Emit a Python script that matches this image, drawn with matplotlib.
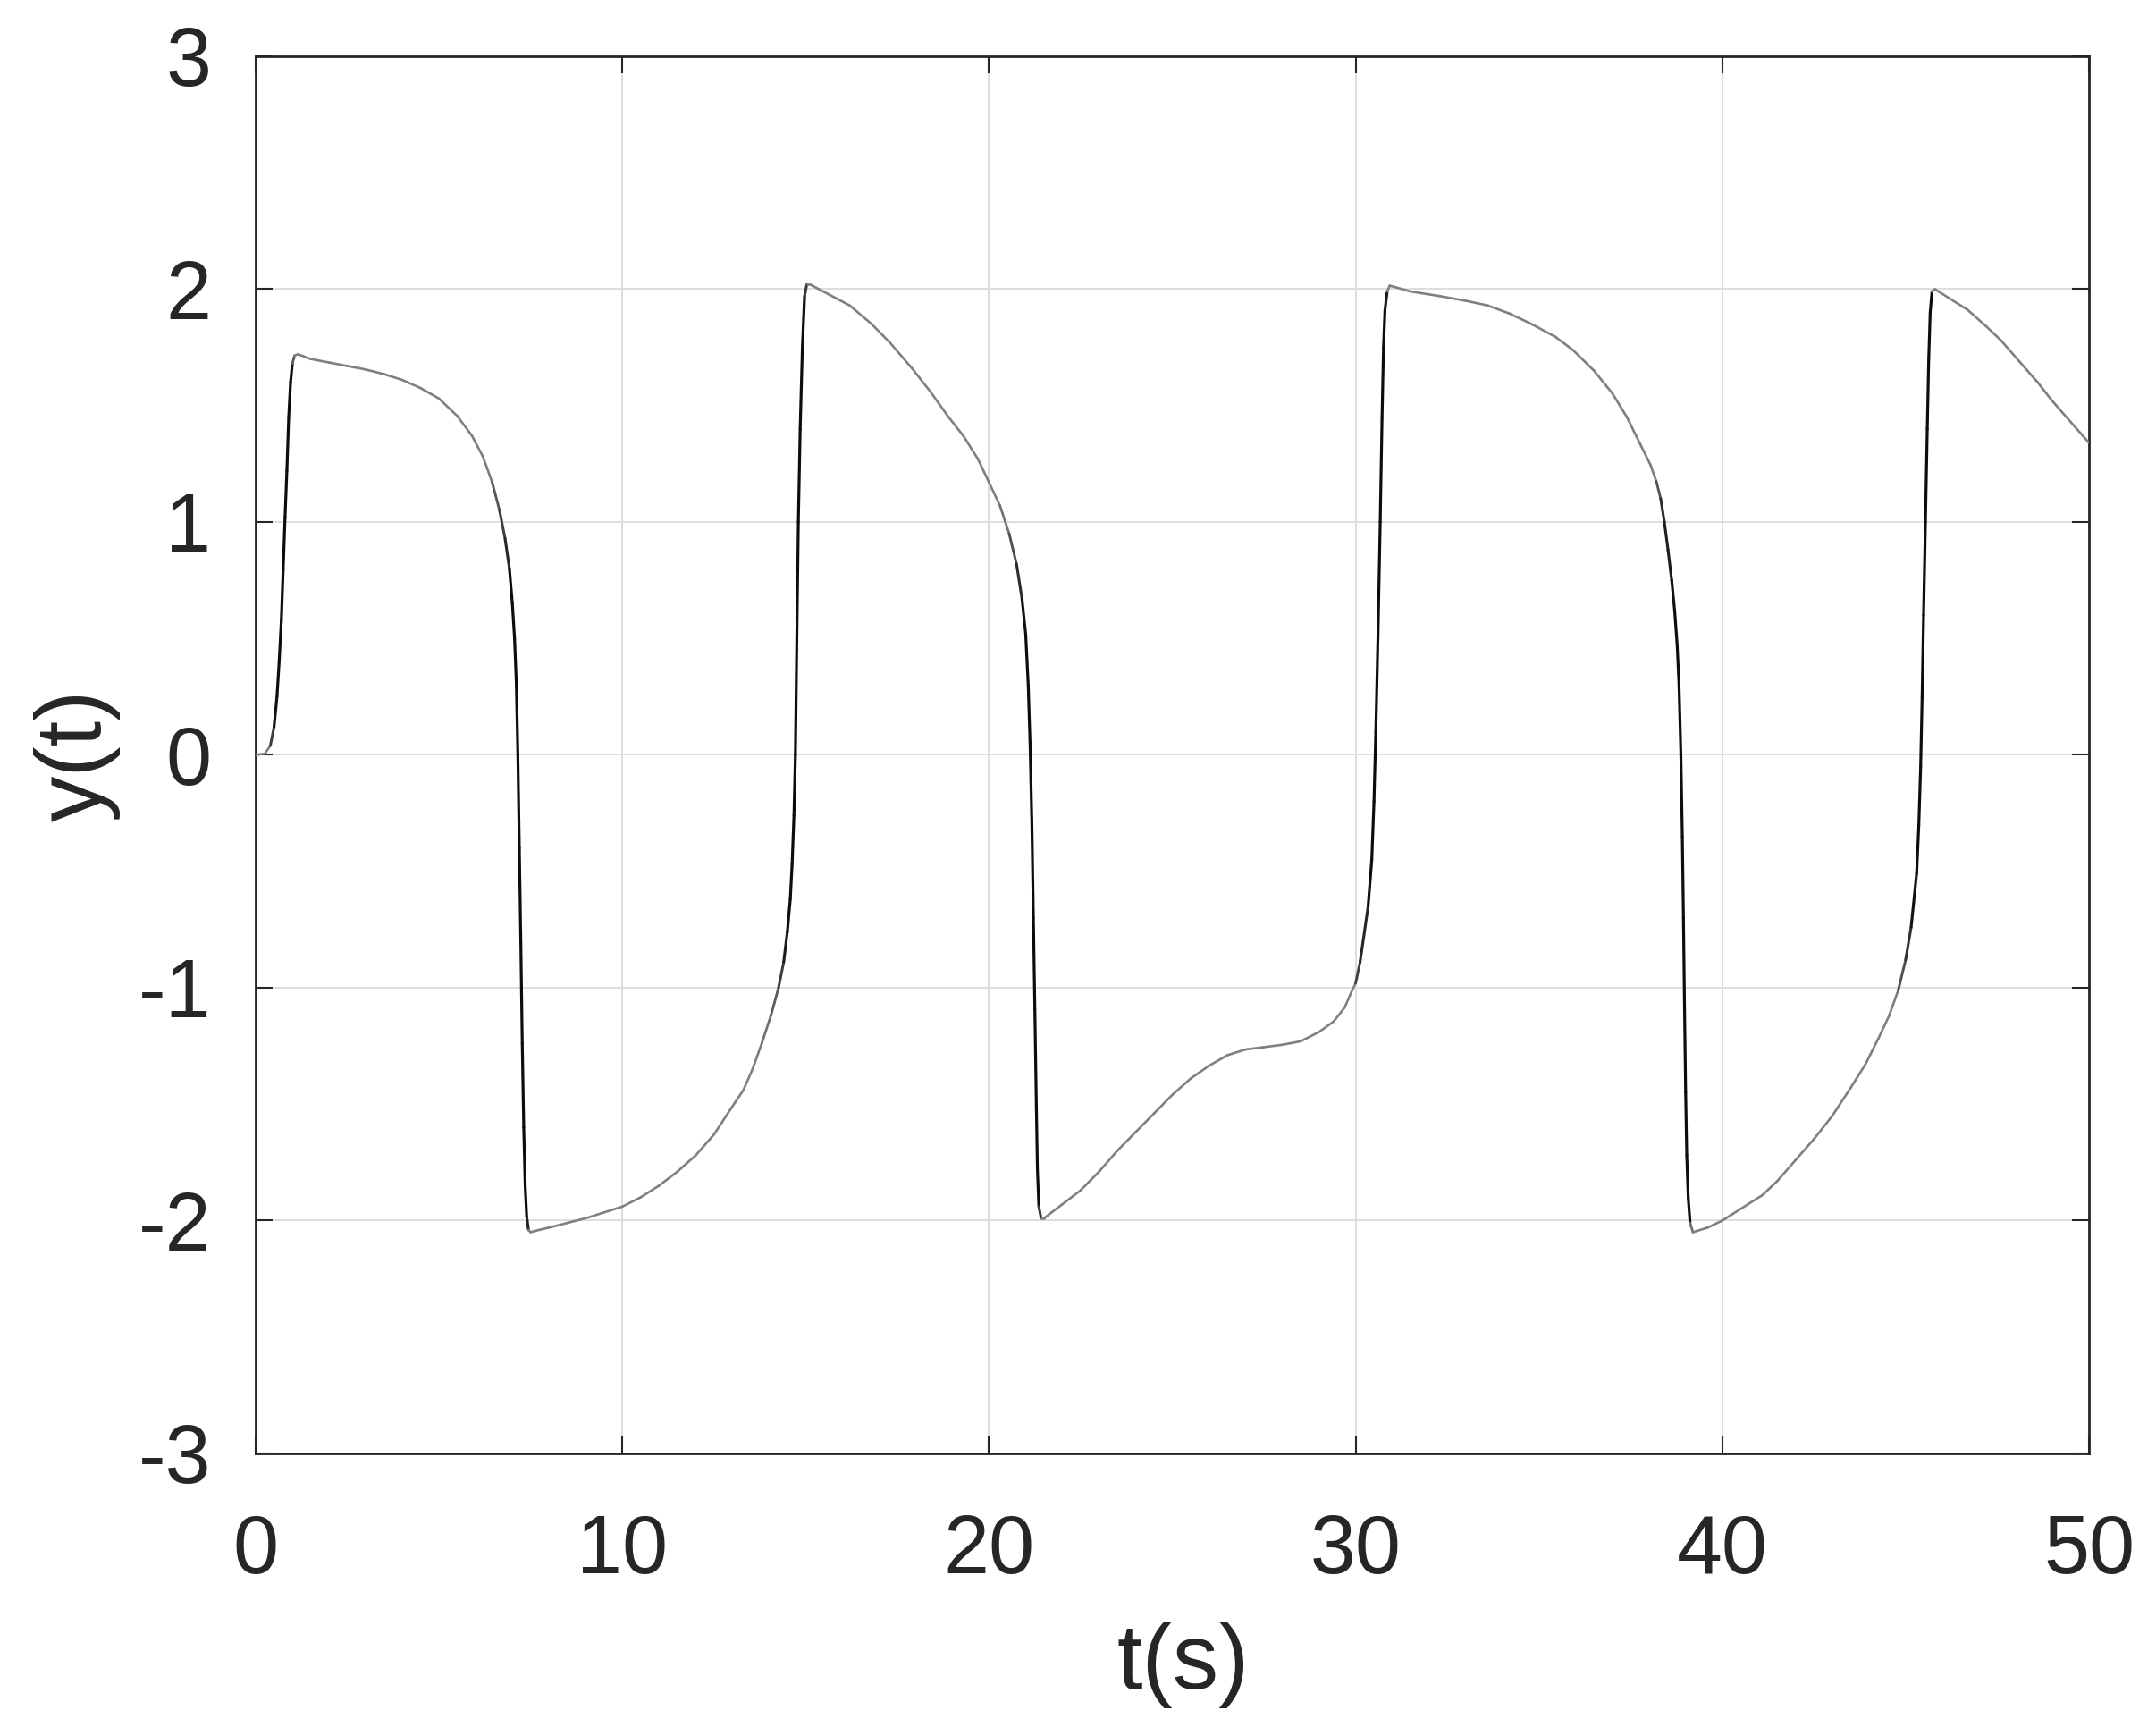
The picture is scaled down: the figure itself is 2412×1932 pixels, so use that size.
import numpy as np
import matplotlib.pyplot as plt
from matplotlib.collections import LineCollection

# values
t_vals = [0.0, 0.25, 0.4, 0.5, 0.58, 0.64, 0.70, 0.75, 0.80, 0.85, 0.90, 0.95, 1.0, 1.06, 1.15, 1.25,
          1.5, 2.0, 2.5, 3.0, 3.5, 4.0, 4.5, 5.0, 5.5, 5.9, 6.2, 6.45, 6.65, 6.8, 6.92, 7.0, 7.06, 7.11,
          7.15, 7.19, 7.23, 7.27, 7.31, 7.35, 7.39, 7.44, 7.5, 7.6,
          8.0, 8.5, 9.0, 9.5, 10.0, 10.5, 11.0, 11.5, 12.0, 12.5, 13.0, 13.3, 13.55, 13.8, 14.05, 14.26,
          14.4, 14.5, 14.58, 14.63, 14.68, 14.72, 14.76, 14.8, 14.85, 14.91, 14.97, 15.03, 15.12,
          15.6, 16.2, 16.8, 17.3, 17.9, 18.4, 18.9, 19.3, 19.7, 20.0, 20.3, 20.55, 20.75, 20.9, 21.0,
          21.07, 21.12, 21.17, 21.21, 21.25, 21.29, 21.32, 21.36, 21.42, 21.5,
          22.0, 22.5, 23.0, 23.5, 24.0, 24.5, 25.0, 25.5, 26.0, 26.5, 27.0, 27.5, 28.0, 28.5, 29.0,
          29.4, 29.7, 29.88, 30.0, 30.12, 30.24, 30.34, 30.44, 30.5, 30.55, 30.61, 30.67, 30.72, 30.76,
          30.8, 30.86, 30.93, 31.05,
          31.5, 32.3, 33.0, 33.6, 34.2, 34.8, 35.45, 35.93, 36.5, 37.0, 37.4, 37.76, 38.04, 38.2, 38.32,
          38.42, 38.52, 38.62, 38.7, 38.77, 38.82, 38.87, 38.91, 38.94, 38.97, 39.0, 39.03, 39.07, 39.12,
          39.2, 39.3,
          39.6, 40.0, 40.5, 41.1, 41.5, 42.0, 42.5, 43.0, 43.5, 43.9, 44.25, 44.55, 44.8, 45.0, 45.15,
          45.3, 45.36, 45.41, 45.45, 45.49, 45.54, 45.59, 45.63, 45.67, 45.72, 45.8,
          46.2, 46.7, 47.2, 47.6, 48.1, 48.6, 49.0, 49.5, 50.0]
y_vals = [0.0, 0.005, 0.04, 0.12, 0.25, 0.4, 0.58, 0.80, 1.02, 1.22, 1.45, 1.60, 1.68, 1.715, 1.72, 1.715,
          1.70, 1.685, 1.67, 1.655, 1.635, 1.61, 1.575, 1.53, 1.455, 1.37, 1.28, 1.17, 1.05, 0.93, 0.80, 0.65, 0.50, 0.30,
          0.0, -0.4, -0.8, -1.24, -1.6, -1.85, -1.98, -2.04, -2.05, -2.045,
          -2.03, -2.01, -1.99, -1.965, -1.94, -1.90, -1.85, -1.79, -1.72, -1.63, -1.51, -1.44, -1.35, -1.24, -1.12, -1.0,
          -0.89, -0.76, -0.62, -0.47, -0.26, 0.0, 0.52, 1.0, 1.4, 1.75, 1.97, 2.02, 2.02,
          1.98, 1.93, 1.85, 1.77, 1.66, 1.56, 1.45, 1.37, 1.27, 1.17, 1.07, 0.95, 0.82, 0.67, 0.52,
          0.30, 0.05, -0.3, -0.7, -1.09, -1.5, -1.78, -1.94, -1.99, -1.99,
          -1.93, -1.87, -1.79, -1.70, -1.62, -1.54, -1.46, -1.39, -1.335, -1.29, -1.265, -1.255, -1.245, -1.23, -1.19,
          -1.145, -1.085, -1.02, -0.98, -0.89, -0.76, -0.65, -0.45, -0.2, 0.1, 0.52, 1.0, 1.45, 1.75,
          1.91, 1.99, 2.015, 2.01,
          1.99, 1.97, 1.95, 1.93, 1.895, 1.85, 1.795, 1.738, 1.65, 1.553, 1.45, 1.335, 1.246, 1.175, 1.10,
          1.0, 0.88, 0.75, 0.62, 0.47, 0.30, 0.0, -0.35, -0.7, -1.09, -1.45, -1.72, -1.9, -2.01,
          -2.05, -2.045,
          -2.03, -2.0, -1.95, -1.89, -1.83, -1.74, -1.65, -1.55, -1.43, -1.33, -1.22, -1.12, -1.01, -0.88, -0.74,
          -0.51, -0.3, -0.05, 0.25, 0.6, 1.0, 1.4, 1.7, 1.9, 1.99, 2.0,
          1.96, 1.91, 1.84, 1.78, 1.69, 1.60, 1.52, 1.43, 1.34]

x_ticks = [0, 10, 20, 30, 40, 50]
y_ticks = [-3, -2, -1, 0, 1, 2, 3]

txt = '#262626'
plt.rcParams['font.family'] = ['Liberation Sans', 'DejaVu Sans']
plt.rcParams['axes.unicode_minus'] = False

fig = plt.figure(figsize=(24.12, 19.32), dpi=100)
ax = fig.add_axes([0.1186, 0.1584, 0.8503, 0.809])

ax.set_xlim(0, 50)
ax.set_ylim(-3, 3)
ax.set_xticks(x_ticks)
ax.set_yticks(y_ticks)

t = np.array(t_vals)
y = np.array(y_vals)
pts = np.column_stack([t, y])
segs = np.stack([pts[:-1], pts[1:]], axis=1)

# darker where the trace is steep on screen (as in the source render)
px_x = ax.bbox.width / 50.0
px_y = ax.bbox.height / 6.0
ang = np.degrees(np.arctan2(np.abs(np.diff(y)) * px_y, np.diff(t) * px_x))
w = np.clip((ang - 70) / 15.0, 0, 1)
g = 0.5 - 0.45 * w
cols = np.column_stack([g, g, g, np.ones_like(g)])
lws = 1.9 + 0.4 * w
lc = LineCollection(segs, colors=cols, linewidths=lws, capstyle='round', joinstyle='round', zorder=3)
ax.add_collection(lc)

ax.grid(True, color='#dedede', linewidth=1.4)
ax.set_axisbelow(True)
for s in ax.spines.values():
    s.set_color(txt)
    s.set_linewidth(2.0)
ax.tick_params(direction='in', length=14, width=1.5, colors=txt, labelsize=66,
               top=True, right=True)
ax.tick_params(axis='x', pad=48)
ax.tick_params(axis='y', pad=36)

ax.set_xlabel('t(s)', fontsize=74, color=txt, labelpad=20)
ax.set_ylabel('y(t)', fontsize=74, color=txt, labelpad=14)
ax.xaxis.set_label_coords(0.506, -0.12)
ax.xaxis.label.set_va('top')

fig.savefig('out.png', dpi=100, facecolor='white')
